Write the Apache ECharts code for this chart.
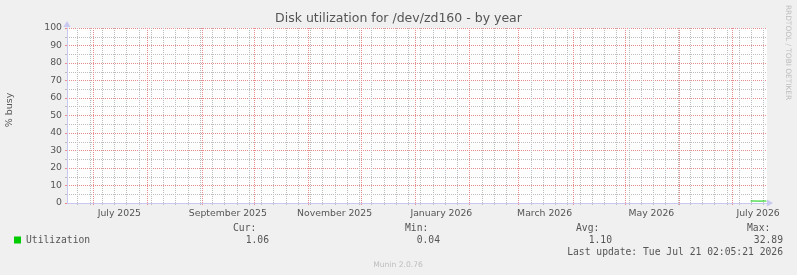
<!DOCTYPE html>
<html><head><meta charset="utf-8">
<script src="https://cdn.jsdelivr.net/npm/echarts@6/dist/echarts.min.js"></script>
<style>html,body{margin:0;padding:0;background:#f0f0f0}#c{width:797px;height:275px}</style>
</head><body><div id="c"></div>
<script>
// ---- data ----
const chartTitle = 'Disk utilization for /dev/zd160 - by year';
const yAxisTitle = '% busy';
const lastUpdate = '2026-07-21T02:05:21Z';
const rangeDays = 400;
const xLabelMonths = ['2025-07-16', '2025-09-16', '2025-11-16', '2026-01-16', '2026-03-16', '2026-05-16', '2026-07-16'];
const xLabelTexts = ['July 2025', 'September 2025', 'November 2025', 'January 2026', 'March 2026', 'May 2026', 'July 2026'];
const seriesName = 'Utilization';
const utilTimes = ['2026-07-11T18:00:00Z', '2026-07-12T18:00:00Z', '2026-07-13T18:00:00Z', '2026-07-14T18:00:00Z', '2026-07-15T18:00:00Z', '2026-07-16T18:00:00Z', '2026-07-17T18:00:00Z', '2026-07-18T18:00:00Z', '2026-07-19T18:00:00Z', '2026-07-20T18:00:00Z', '2026-07-21T00:00:00Z'];
const utilValues = [1.12, 1.09, 1.15, 1.10, 1.08, 1.13, 1.11, 1.07, 1.14, 1.09, 1.06];
const statLabels = ['Cur:', 'Min:', 'Avg:', 'Max:'];
const statValues = ['1.06', '0.04', '1.10', '32.89'];
const lastUpdateText = 'Last update: Tue Jul 21 02:05:21 2026';
const sideText = 'RRDTOOL / TOBI OETIKER';
const footerText = 'Munin 2.0.76';

// ---- derived ----
const DAY = 86400000;
const xMax = Date.parse(lastUpdate);
const xMin = xMax - rangeDays * DAY;
const labelVals = xLabelMonths.map(d => Date.parse(d + 'T00:00:00Z'));
const monthStarts = [];
for (let y = 2025, m = 0; y < 2027; ) {
  const t = Date.UTC(y, m, 1);
  if (t > xMin && t < xMax) monthStarts.push([t, 0]);
  m++; if (m > 11) { m = 0; y++; }
}
const weekLines = [];
for (let t = Date.UTC(2025, 5, 22); t < xMax; t += 7 * DAY) if (t > xMin) weekLines.push([t, 0]);
const utilData = utilTimes.map((t, i) => [Date.parse(t), utilValues[i]]);

const RED = '#e88c8c', GRAY = '#bdbdbd', AXIS = '#c8c8f0', TXT = '#555';
const FONT = 'DejaVu Sans', MONO = 'DejaVu Sans Mono';

function vLine(color) {
  return function (params, api) {
    const cs = params.coordSys;
    const x = Math.round(api.coord([api.value(0), 0])[0]) + 0.5;
    return {type: 'line', shape: {x1: x, y1: cs.y, x2: x, y2: cs.y + cs.height + 2},
      style: {stroke: color, lineWidth: 1, lineDash: [1, 1]}};
  };
}

const chart = echarts.init(document.getElementById('c'), null, {renderer: 'canvas'});
chart.setOption({
  animation: false,
  backgroundColor: '#f0f0f0',
  title: {text: chartTitle, left: 'center', top: 12, padding: 0,
    textStyle: {fontFamily: FONT, fontSize: 12.5, fontWeight: 'normal', color: TXT}},
  legend: {data: [{name: seriesName, icon: 'rect'}], left: 14, top: 234, padding: 0,
    itemWidth: 7, itemHeight: 7,
    textStyle: {fontFamily: MONO, fontSize: 9.7, color: TXT, lineHeight: 12}},
  grid: {left: 67, right: 30, top: 28, height: 175, show: true, backgroundColor: '#fff', borderWidth: 0, containLabel: false},
  xAxis: {type: 'value', min: xMin, max: xMax, position: 'bottom',
    axisLine: {show: true, lineStyle: {color: AXIS, width: 1}, symbol: ['none', 'triangle'], symbolSize: [7, 6], symbolOffset: [0, 3]},
    axisTick: {show: false, customValues: labelVals},
    splitLine: {show: false},
    axisLabel: {customValues: labelVals, margin: 6, fontFamily: FONT, fontSize: 9.3, color: TXT,
      formatter: v => { const i = labelVals.indexOf(v); return i >= 0 ? xLabelTexts[i] : ''; }}},
  yAxis: {type: 'value', min: 0, max: 100, interval: 10,
    axisLine: {show: true, lineStyle: {color: AXIS, width: 1}, symbol: ['none', 'triangle'], symbolSize: [7, 6], symbolOffset: [0, 4]},
    axisTick: {show: true, length: 2, lineStyle: {color: RED}},
    axisLabel: {margin: 5, fontFamily: FONT, fontSize: 9.3, color: TXT},
    splitLine: {show: true, lineStyle: {color: RED, type: [1, 1], width: 1}},
    minorTick: {show: true, splitNumber: 2, length: 2, lineStyle: {color: GRAY}},
    minorSplitLine: {show: true, lineStyle: {color: GRAY, type: [1, 1], width: 1}}},
  series: [
    {name: 'weeks', type: 'custom', data: weekLines, encode: {x: 0, y: 1}, renderItem: vLine(GRAY), clip: false, silent: true, z: 1},
    {name: 'months', type: 'custom', data: monthStarts, encode: {x: 0, y: 1}, renderItem: vLine(RED), clip: false, silent: true, z: 2},
    {name: seriesName, type: 'line', data: utilData, showSymbol: false,
      color: '#00cc00', lineStyle: {width: 1, color: '#00cc00'}, itemStyle: {color: '#00cc00'}, z: 5}
  ],
  graphic: [
    {type: 'text', x: 10, y: 110, rotation: Math.PI / 2,
      style: {text: yAxisTitle, font: '9.5px "DejaVu Sans"', fill: TXT, align: 'center', verticalAlign: 'middle'}},
    {type: 'text', x: 787.5, y: 52.5, rotation: -Math.PI / 2,
      style: {text: sideText, font: '7.4px "DejaVu Sans"', fill: '#bdbdbd', align: 'center', verticalAlign: 'middle'}},
    {type: 'text', x: 398, y: 265,
      style: {text: footerText, font: '7.6px "DejaVu Sans"', fill: '#bdbdbd', align: 'center', verticalAlign: 'middle'}},
    {type: 'text', x: 233, y: 228, style: {text: statLabels[0], font: '9.7px "DejaVu Sans Mono"', fill: TXT, align: 'left', verticalAlign: 'middle'}},
    {type: 'text', x: 405, y: 228, style: {text: statLabels[1], font: '9.7px "DejaVu Sans Mono"', fill: TXT, align: 'left', verticalAlign: 'middle'}},
    {type: 'text', x: 576, y: 228, style: {text: statLabels[2], font: '9.7px "DejaVu Sans Mono"', fill: TXT, align: 'left', verticalAlign: 'middle'}},
    {type: 'text', x: 747, y: 228, style: {text: statLabels[3], font: '9.7px "DejaVu Sans Mono"', fill: TXT, align: 'left', verticalAlign: 'middle'}},
    {type: 'text', x: 269, y: 240, style: {text: statValues[0], font: '9.7px "DejaVu Sans Mono"', fill: TXT, align: 'right', verticalAlign: 'middle'}},
    {type: 'text', x: 440, y: 240, style: {text: statValues[1], font: '9.7px "DejaVu Sans Mono"', fill: TXT, align: 'right', verticalAlign: 'middle'}},
    {type: 'text', x: 612, y: 240, style: {text: statValues[2], font: '9.7px "DejaVu Sans Mono"', fill: TXT, align: 'right', verticalAlign: 'middle'}},
    {type: 'text', x: 783, y: 240, style: {text: statValues[3], font: '9.7px "DejaVu Sans Mono"', fill: TXT, align: 'right', verticalAlign: 'middle'}},
    {type: 'text', x: 783, y: 252, style: {text: lastUpdateText, font: '9.7px "DejaVu Sans Mono"', fill: TXT, align: 'right', verticalAlign: 'middle'}}
  ]
});
</script></body></html>
